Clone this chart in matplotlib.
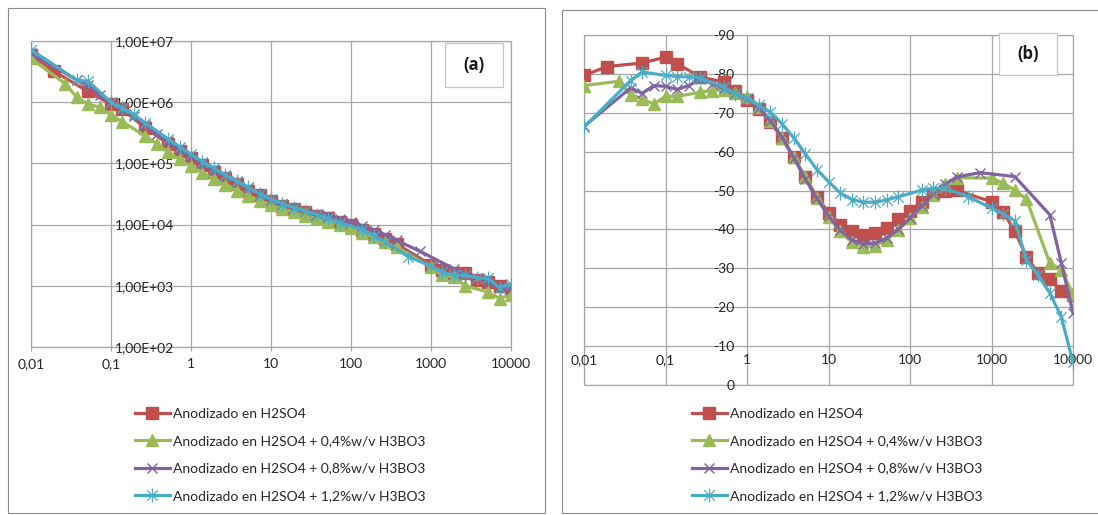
import matplotlib
matplotlib.use("Agg")
import matplotlib.pyplot as plt
from matplotlib.path import Path
from matplotlib.patches import Rectangle

plt.rcParams['font.family'] = ['Lato', 'DejaVu Sans']
plt.rcParams['axes.unicode_minus'] = False

W, H = 1098, 515

labels = ["Anodizado en H2SO4",
          "Anodizado en H2SO4 + 0,4%w/v H3BO3",
          "Anodizado en H2SO4 + 0,8%w/v H3BO3",
          "Anodizado en H2SO4 + 1,2%w/v H3BO3"]

# frequencies (Hz) of the points of each series
f_h2so4 = [0.01, 0.0193, 0.0518, 0.1, 0.139, 0.268, 0.518, 0.72, 1, 1.39, 1.93, 2.68,
           3.73, 5.18, 7.2, 10, 13.9, 19.3, 26.8, 37.3, 51.8, 72, 100, 139, 193, 268,
           373, 1000, 1389, 1931, 2683, 3728, 5179, 7197, 10000]
f_04 = [0.01, 0.0268, 0.0373, 0.0518, 0.072, 0.1, 0.139, 0.268, 0.373, 0.518, 0.72, 1,
        1.39, 1.93, 2.68, 3.73, 5.18, 7.2, 10, 13.9, 19.3, 26.8, 37.3, 51.8, 72, 100,
        139, 193, 268, 373, 1000, 1389, 1931, 2683, 5179, 7197, 10000]
f_08 = [0.01, 0.0373, 0.0518, 0.072, 0.1, 0.139, 0.193, 0.268, 0.373, 0.518, 0.72, 1,
        1.39, 1.93, 2.68, 3.73, 5.18, 7.2, 10, 13.9, 19.3, 26.8, 37.3, 51.8, 72, 100,
        139, 193, 268, 373, 720, 1931, 5179, 7197, 10000]
f_12 = [0.01, 0.0373, 0.0518, 0.1, 0.139, 0.193, 0.268, 0.518, 0.72, 1, 1.39, 1.93,
        2.68, 3.73, 5.18, 7.2, 10, 13.9, 19.3, 26.8, 37.3, 51.8, 72, 139, 193, 268,
        518, 1000, 1389, 1931, 2683, 3728, 5179, 7197, 10000]

# (a) impedance modulus
z_h2so4 = [6.0e6, 3.2e6, 1.5e6, 9.3e5, 7.6e5, 3.8e5, 2.1e5, 1.6e5, 1.23e5, 9.3e4, 7.2e4,
           5.8e4, 4.6e4, 3.6e4, 3.0e4, 2.4e4, 2.0e4, 1.8e4, 1.6e4, 1.4e4, 1.26e4, 1.12e4,
           9.8e3, 8.3e3, 6.9e3, 5.8e3, 4.8e3, 2.2e3, 1.8e3, 1.6e3, 1.6e3, 1.26e3, 1.17e3,
           1.0e3, 8.9e2]
z_04 = [5.2e6, 2.0e6, 1.2e6, 9.3e5, 8.3e5, 6.2e5, 4.8e5, 2.8e5, 2.1e5, 1.55e5, 1.17e5,
        9.1e4, 7.1e4, 5.6e4, 4.5e4, 3.6e4, 2.95e4, 2.45e4, 2.1e4, 1.8e4, 1.6e4, 1.4e4,
        1.26e4, 1.12e4, 1.0e4, 8.7e3, 7.4e3, 6.2e3, 5.1e3, 4.3e3, 2.0e3, 1.5e3, 1.4e3,
        1.0e3, 7.9e2, 6.2e2, 7.1e2]
z_08 = [6.3e6, 2.3e6, 1.9e6, 1.3e6, 9.8e5, 7.8e5, 6.0e5, 4.2e5, 3.0e5, 2.3e5, 1.66e5,
        1.29e5, 1.0e5, 7.8e4, 6.2e4, 4.9e4, 3.9e4, 3.1e4, 2.5e4, 2.15e4, 1.86e4, 1.66e4,
        1.5e4, 1.38e4, 1.23e4, 1.1e4, 9.5e3, 8.1e3, 6.8e3, 5.5e3, 3.7e3, 1.9e3, 1.17e3,
        9.5e2, 8.9e2]
z_12 = [7.2e6, 2.3e6, 2.2e6, 1.0e6, 7.9e5, 6.3e5, 4.6e5, 2.5e5, 1.86e5, 1.41e5, 1.07e5,
        8.3e4, 6.5e4, 5.1e4, 4.1e4, 3.2e4, 2.6e4, 2.2e4, 1.9e4, 1.66e4, 1.45e4, 1.26e4,
        1.07e4, 8.3e3, 6.6e3, 5.2e3, 3.0e3, 2.1e3, 1.66e3, 1.5e3, 1.48e3, 1.35e3, 1.32e3,
        9.3e2, 1.07e3]

# (b) phase angle
p_h2so4 = [-79.6, -81.9, -82.8, -84.3, -82.6, -79.2, -77.9, -75.7, -73.4, -71.0, -67.6,
           -63.5, -58.7, -53.5, -48.4, -44.3, -41.2, -39.5, -38.6, -39.0, -40.3, -42.7,
           -44.8, -47.1, -49.1, -50.0, -50.1, -47.1, -44.6, -39.5, -33.0, -28.8, -27.2,
           -24.3, -23.2]
p_04 = [-77.0, -78.1, -74.7, -73.6, -72.2, -74.3, -74.2, -75.3, -75.7, -75.9, -75.2,
        -74.0, -71.5, -67.8, -63.6, -58.6, -53.4, -48.2, -43.3, -39.5, -36.7, -35.6,
        -35.8, -37.3, -39.9, -42.9, -45.9, -48.8, -51.6, -53.3, -53.2, -51.9, -50.1,
        -47.8, -31.4, -29.6, -23.4]
p_08 = [-66.5, -76.4, -75.0, -77.0, -76.8, -76.0, -77.0, -78.7, -77.5, -76.3, -75.0,
        -73.6, -71.2, -68.0, -63.8, -58.5, -53.0, -48.0, -43.5, -39.8, -37.3, -36.3,
        -36.5, -37.8, -40.0, -43.0, -46.0, -49.0, -51.6, -53.5, -54.6, -53.6, -43.8,
        -31.4, -18.5]
p_12 = [-66.3, -78.3, -80.5, -79.6, -79.3, -79.2, -79.0, -76.6, -74.8, -73.8, -71.9,
        -70.2, -67.2, -63.6, -59.5, -55.4, -52.3, -49.4, -47.7, -47.0, -47.0, -47.6,
        -48.4, -50.1, -50.6, -50.6, -48.4, -45.5, -44.0, -42.2, -32.2, -28.2, -23.7,
        -17.5, -5.8]

x_ticks = [0.01, 0.1, 1, 10, 100, 1000, 10000]
x_ticklabels = ["0,01", "0,1", "1", "10", "100", "1000", "10000"]
za_ticks = [1e2, 1e3, 1e4, 1e5, 1e6, 1e7]
za_ticklabels = ["1,00E+02", "1,00E+03", "1,00E+04", "1,00E+05", "1,00E+06", "1,00E+07"]
pb_ticks = [0, -10, -20, -30, -40, -50, -60, -70, -80, -90]
pb_ticklabels = ["0", "-10", "-20", "-30", "-40", "-50", "-60", "-70", "-80", "-90"]

colors = ["#C0504D", "#9BBB59", "#8064A2", "#4BACC6"]
asterisk = Path([(0, -1), (0, 1), (-0.75, -0.75), (0.75, 0.75), (-0.75, 0.75), (0.75, -0.75)],
                [Path.MOVETO, Path.LINETO] * 3)
styles = [dict(marker='s', ms=8.5),
          dict(marker='^', ms=9),
          dict(marker='x', ms=7.5, mew=1.0),
          dict(marker=asterisk, ms=10, mew=0.9)]
grid_c = "#a6a6a6"
text_c = "#262626"


def px(x0, y0, x1, y1):
    return [x0 / W, 1 - y1 / H, (x1 - x0) / W, (y1 - y0) / H]


def draw_series(ax, fs, ys):
    for f, y, c, st, lab in zip(fs, ys, colors, styles, labels):
        ax.plot(f, y, color=c, lw=2.3, mec=c, mfc=c, label=lab, **st)


def style_axes(ax):
    ax.set_xscale('log')
    ax.set_xlim(0.01, 10000)
    ax.grid(True, color=grid_c, lw=0.9)
    ax.set_axisbelow(True)
    ax.minorticks_off()
    for s in ax.spines.values():
        s.set_color('none')
    ax.add_patch(Rectangle((0, 0), 1, 1, transform=ax.transAxes, fill=False,
                           ec=grid_c, lw=0.9, clip_on=False, zorder=0.5))
    ax.spines['left'].set_position(('data', 1))
    ax.tick_params(colors=text_c, labelsize=10)


fig = plt.figure(figsize=(W / 100, H / 100), dpi=100)

# panel frames
fig.add_artist(Rectangle((8 / W, 1 - 513 / H), 537 / W, 505 / H, fill=False, ec="#8c8c8c", lw=0.8))
fig.add_artist(Rectangle((562 / W, 1 - 513 / H), 600 / W, 503 / H, fill=False, ec="#8c8c8c", lw=0.8))

# (a)
ax1 = fig.add_axes(px(31, 41, 511, 347))
draw_series(ax1, [f_h2so4, f_04, f_08, f_12], [z_h2so4, z_04, z_08, z_12])
style_axes(ax1)
ax1.set_yscale('log')
ax1.set_ylim(1e2, 1e7)
ax1.minorticks_off()
ax1.set_xticks(x_ticks, x_ticklabels)
ax1.set_yticks(za_ticks, za_ticklabels)
ax1.tick_params(axis='x', length=3, color=grid_c, pad=5)
ax1.tick_params(axis='y', length=0, pad=12)

# (b)
ax2 = fig.add_axes(px(584, 35, 1073, 385))
draw_series(ax2, [f_h2so4, f_04, f_08, f_12], [p_h2so4, p_04, p_08, p_12])
style_axes(ax2)
ax2.set_ylim(0, -90)
ax2.set_xticks(x_ticks, x_ticklabels)
ax2.set_yticks(pb_ticks, pb_ticklabels)
ax2.spines['bottom'].set_position(('data', -10))
ax2.tick_params(axis='x', length=0, pad=6)
ax2.tick_params(axis='y', length=0, pad=9)

# panel tags
for (x0, y0, x1, y1), tag in [((445, 43, 503, 87), "(a)"), ((999, 33, 1057, 75), "(b)")]:
    fig.add_artist(Rectangle((x0 / W, 1 - y1 / H), (x1 - x0) / W, (y1 - y0) / H,
                             fc='white', ec="#c8c8c8", lw=0.9, zorder=5))
    fig.text((x0 + x1) / 2 / W, 1 - (y0 + y1) / 2 / H, tag, ha='center', va='center',
             fontsize=12, fontweight='bold', family=['Open Sans', 'DejaVu Sans'],
             color='#1a1a1a', zorder=6)

# legends
h, l = ax1.get_legend_handles_labels()
for x_anchor in (135, 692):
    fig.legend(h, l, loc='upper left', bbox_to_anchor=(x_anchor / W, 1 - 408 / H),
               frameon=False, fontsize=10, numpoints=1, handlelength=2.5,
               handletextpad=0.25, labelspacing=1.1, borderpad=0, borderaxespad=0,
               labelcolor=text_c)

fig.savefig("out.png", dpi=100)
